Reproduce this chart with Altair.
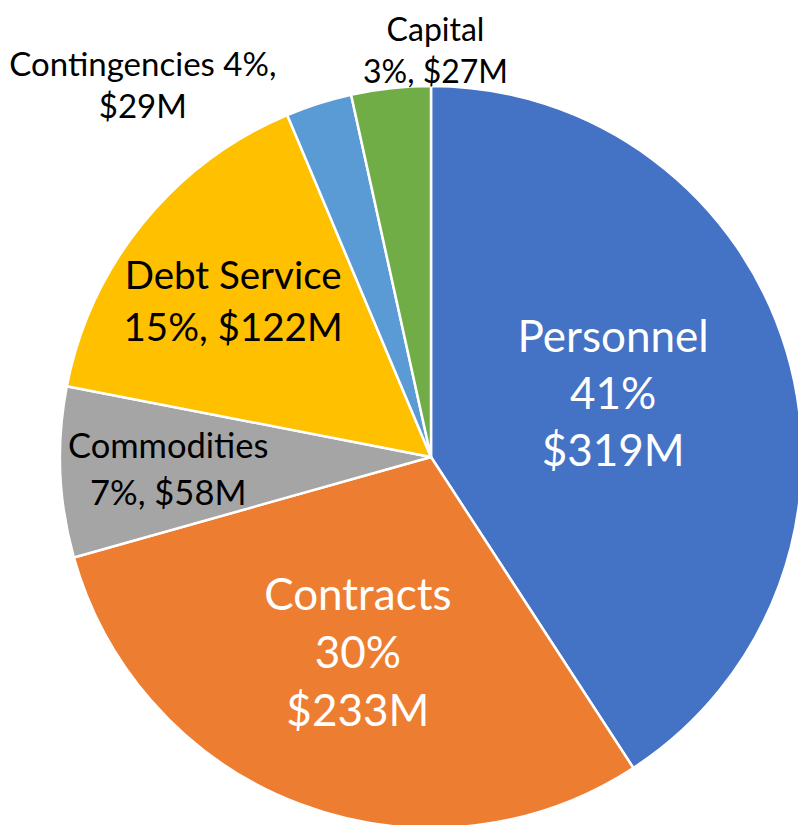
import altair as alt
import pandas as pd

categories = ["Personnel", "Contracts", "Commodities", "Debt Service", "Contingencies", "Capital"]
slice_values = [319, 233, 58, 122, 22.5, 27]     # slice sizes as drawn ($M)
label_values = [319, 233, 58, 122, 29, 27]       # amounts printed in labels ($M)
percents = [41, 30, 7, 15, 4, 3]
colors = ["#4472C4", "#ED7D31", "#A5A5A5", "#FFC000", "#5B9BD5", "#70AD47"]

# label text layout per category
label_templates = {
    "Personnel": "{c}\n{p}%\n${a}M",
    "Contracts": "{c}\n{p}%\n${a}M",
    "Commodities": "{c}\n{p}%, ${a}M",
    "Debt Service": "{c}\n{p}%, ${a}M",
    "Contingencies": "{c} {p}%,\n${a}M",
    "Capital": "{c}\n{p}%, ${a}M",
}

df = pd.DataFrame({
    "category": categories,
    "amount": slice_values,
    "idx": list(range(len(categories))),
})
df["label"] = [label_templates[c].format(c=c, p=p, a=a)
               for c, p, a in zip(categories, percents, label_values)]

CX, CY, R = 423, 449, 371
FONT = "Lato"

base = alt.Chart(df).transform_window(
    cum="sum(amount)", sort=[alt.SortField("idx")]
).transform_joinaggregate(
    total="sum(amount)"
).transform_calculate(
    frac="(datum.cum - datum.amount / 2) / datum.total"
)

arcs = base.mark_arc(outerRadius=R, stroke="white", strokeWidth=2.5).encode(
    theta=alt.Theta("amount:Q", stack=True),
    order=alt.Order("idx:Q"),
    color=alt.Color("category:N", scale=alt.Scale(domain=categories, range=colors), legend=None),
    x=alt.value(CX),
    y=alt.value(CY),
)

# per-label style: radius, dx, dy, font size, line height, color
label_style = {
    "Personnel": (190, 0, -64, 44, 57, "white"),
    "Contracts": (205, -1, -52, 44, 58, "white"),
    "Commodities": (263, 0, -20, 34.5, 47, "black"),
    "Debt Service": (255, 0, -19, 38.5, 52, "black"),
    "Contingencies": (420, -161, 9, 33, 42, "black"),
    "Capital": (420, 50, -8, 32, 42, "black"),
}

layers = [arcs]
for cat in categories:
    r, dx, dy, fs, lh, col = label_style[cat]
    t = base.transform_filter(alt.datum.category == cat).mark_text(
        radius=r, dx=dx, dy=dy, fontSize=fs, lineHeight=lh, color=col,
        font=FONT, align="center", baseline="middle", lineBreak="\n",
    ).encode(
        theta=alt.Theta("frac:Q", scale=alt.Scale(domain=[0, 1]), stack=None),
        text="label:N",
        x=alt.value(CX),
        y=alt.value(CY),
    )
    layers.append(t)

chart = alt.layer(*layers).resolve_scale(theta="independent").properties(
    width=790, height=817, padding=0, autosize=alt.AutoSizeParams(type="none")
).configure_view(stroke=None)

chart.save("out.html", embed_options={"renderer": "svg", "actions": False})
